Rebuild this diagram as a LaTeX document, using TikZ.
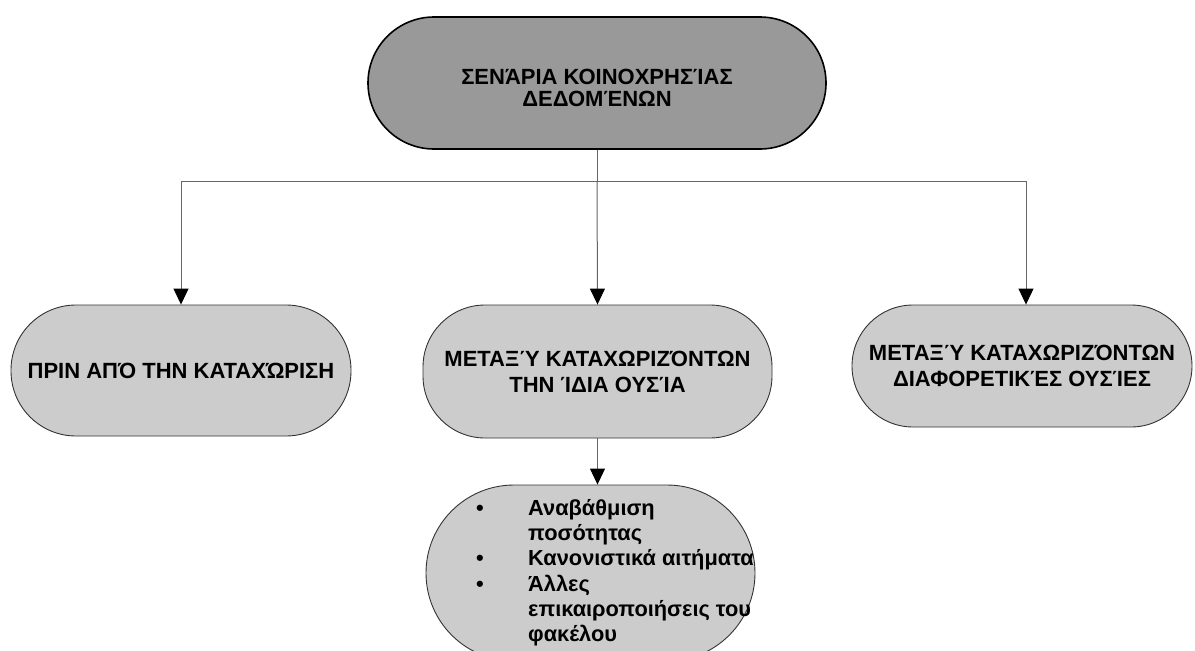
\documentclass[tikz,border=0pt]{standalone}
\usepackage{fontspec}
\setmainfont{Liberation Sans}
\usetikzlibrary{arrows.meta}
\begin{document}
\begin{tikzpicture}[x=1pt,y=-1pt,
  bubble/.style={rectangle, draw=black!80, line width=0.9pt, fill=black!20,
    inner sep=0pt, align=center, font=\bfseries\fontsize{22}{26}\selectfont},
  conn/.style={draw=black!60, line width=1pt,
    -{Triangle[length=16pt,width=15pt,color=black]}},
  plain/.style={draw=black!60, line width=1pt},
  listtext/.style={inner sep=0pt, anchor=north west, font=\bfseries\fontsize{21.8}{25.3}\selectfont}
]
\useasboundingbox (0,0) rectangle (1195,651);
\node[bubble, draw=black, line width=1.6pt, fill=black!40, minimum width=458pt,
  minimum height=132pt, rounded corners=66pt,
  font=\bfseries\fontsize{22}{22}\selectfont] (top) at (597,83)
  {\rule{0pt}{26pt}ΣΕΝΆΡΙΑ ΚΟΙΝΟΧΡΗΣΊΑΣ\\ΔΕΔΟΜΈΝΩΝ};
\node[bubble, minimum width=340pt, minimum height=131pt, rounded corners=65pt]
  (before) at (181,370.5) {ΠΡΙΝ ΑΠΌ ΤΗΝ ΚΑΤΑΧΏΡΙΣΗ};
\node[bubble, minimum width=349pt, minimum height=133pt, rounded corners=62pt]
  (same) at (597.5,371.5) {ΜΕΤΑΞΎ ΚΑΤΑΧΩΡΙΖΌΝΤΩΝ\\ΤΗΝ ΊΔΙΑ ΟΥΣΊΑ};
\node[bubble, minimum width=340pt, minimum height=122pt, rounded corners=61pt]
  (diff) at (1022,366) {ΜΕΤΑΞΎ ΚΑΤΑΧΩΡΙΖΌΝΤΩΝ\\ΔΙΑΦΟΡΕΤΙΚΈΣ ΟΥΣΊΕΣ};
\node[bubble, minimum width=329pt, minimum height=176pt, rounded corners=88pt]
  (detail) at (590.5,573) {};
\node[listtext] (list) at (476,497.3) {%
  \begin{tabular}{@{}p{52pt}@{}l@{}}
  • & Αναβάθμιση\\
    & ποσότητας\\
  • & Κανονιστικά αιτήματα\\
  • & Άλλες\\
    & επικαιροποιήσεις του\\
    & φακέλου
  \end{tabular}};
\coordinate (split) at (597,181);
\draw[plain] (top.south) -- (split);
\draw[conn] (split) -- (same.north);
\draw[conn] (split) -| (before.north);
\draw[conn] (split) -| ([xshift=4pt]diff.north);
\draw[conn] (same.south) -- (same.south |- detail.north);
\end{tikzpicture}
\end{document}
